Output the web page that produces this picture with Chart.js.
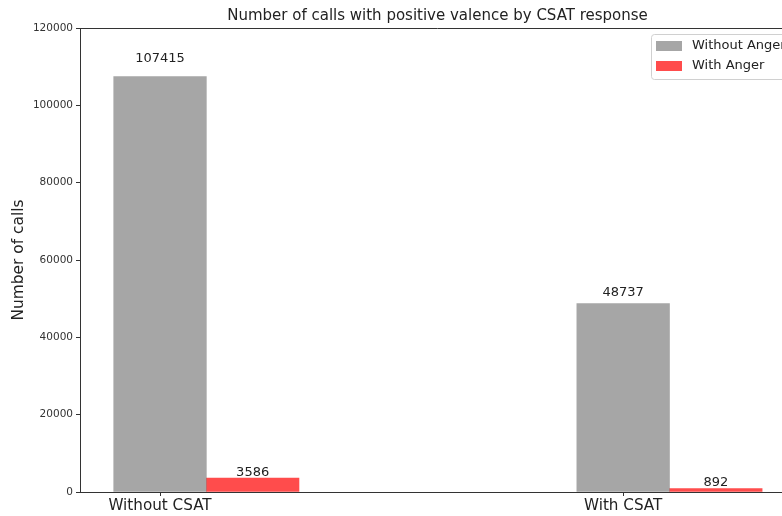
<!DOCTYPE html>
<html>
<head>
<meta charset="utf-8">
<script src="https://cdn.jsdelivr.net/npm/chart.js@4.4.1/dist/chart.umd.min.js"></script>
<style>
  html, body { margin: 0; padding: 0; background: #fff; overflow: hidden; }
  #wrap { width: 800px; height: 516px; }
</style>
</head>
<body>
<div id="wrap"><canvas id="chart"></canvas></div>
<script>
// chart data
const categories = ["Without CSAT", "With CSAT"];
const seriesNames = ["Without Anger", "With Anger"];
const withoutAnger = [107415, 48737];
const withAnger = [3586, 892];
const yTicks = [0, 20000, 40000, 60000, 80000, 100000, 120000];
// second series sits one bar width to the right of the tick (x + 0.2)
const barShift = 0.2;

const GRAY = "rgba(128, 128, 128, 0.7)";
const RED = "rgba(255, 0, 0, 0.7)";
const FONT = "'DejaVu Sans', sans-serif";

// title, y label, top/right border, legend and value labels
const extrasPlugin = {
  id: "extras",
  afterDraw(chart) {
    const ctx = chart.ctx;
    const area = chart.chartArea;
    const yScale = chart.scales.y;
    ctx.save();

    // frame top + right
    ctx.strokeStyle = "#333";
    ctx.lineWidth = 1;
    ctx.beginPath();
    ctx.moveTo(area.left, area.top + 0.5);
    ctx.lineTo(area.right, area.top + 0.5);
    ctx.lineTo(area.right, area.bottom);
    ctx.stroke();

    // title
    ctx.fillStyle = "#222";
    ctx.font = "15px " + FONT;
    ctx.textAlign = "center";
    ctx.textBaseline = "middle";
    ctx.fillText("Number of calls with positive valence by CSAT response",
      (area.left + area.right) / 2, 16);

    // y axis title
    ctx.save();
    ctx.translate(19, (area.top + area.bottom) / 2);
    ctx.rotate(-Math.PI / 2);
    ctx.font = "15.4px " + FONT;
    ctx.fillText("Number of calls", 0, 0);
    ctx.restore();

    // value labels
    ctx.font = "13px " + FONT;
    ctx.textBaseline = "alphabetic";
    chart.data.datasets.forEach((ds, di) => {
      const meta = chart.getDatasetMeta(di);
      meta.data.forEach((bar, i) => {
        const v = ds.data[i].y;
        ctx.fillText(String(v), bar.x, yScale.getPixelForValue(v * 1.03) - 2);
      });
    });

    // legend (inside, upper right)
    const lx = area.right - 144, ly = area.top + 6;
    ctx.fillStyle = "rgba(255,255,255,0.8)";
    ctx.strokeStyle = "#d0d0d0";
    ctx.beginPath();
    ctx.roundRect(lx + 0.5, ly + 0.5, 137, 45, 3);
    ctx.fill();
    ctx.stroke();
    ctx.font = "13px " + FONT;
    ctx.textAlign = "left";
    ctx.textBaseline = "middle";
    chart.data.datasets.forEach((ds, di) => {
      const rowY = ly + 12 + di * 20;
      ctx.fillStyle = ds.backgroundColor;
      ctx.fillRect(lx + 5, rowY - 5, 26, 10);
      ctx.fillStyle = "#222";
      ctx.fillText(ds.label, lx + 41, rowY);
    });

    ctx.restore();
  }
};

new Chart(document.getElementById("chart"), {
  type: "bar",
  data: {
    datasets: [
      {
        label: seriesNames[0],
        data: withoutAnger.map((v, i) => ({ x: i, y: v })),
        backgroundColor: GRAY,
      },
      {
        label: seriesNames[1],
        data: withAnger.map((v, i) => ({ x: i + barShift, y: v })),
        backgroundColor: RED,
      },
    ],
  },
  options: {
    responsive: true,
    maintainAspectRatio: false,
    animation: false,
    layout: { padding: { top: 28, right: 5, left: 0, bottom: 0 } },
    grouped: false,
    // bar width = spacing between neighbouring x values (0.2)
    categoryPercentage: 1.0,
    barPercentage: 1.0,
    plugins: {
      legend: { display: false },
      title: { display: false },
      tooltip: { enabled: false },
    },
    scales: {
      x: {
        type: "linear",
        offset: false,
        min: -0.1728,
        max: 1.371,
        afterBuildTicks: (scale) => {
          scale.ticks = categories.map((c, i) => ({ value: i }));
        },
        afterFit: (scale) => { scale.height = 24; },
        ticks: {
          callback: (v) => categories[v] || "",
          font: { family: FONT, size: 15.2 },
          color: "#222",
          padding: 1,
          maxRotation: 0,
          autoSkip: false,
        },
        grid: { offset: false, drawOnChartArea: false, drawTicks: true, tickLength: 4, color: "#333" },
        border: { display: true, color: "#333" },
      },
      y: {
        min: 0,
        max: 120000,
        afterBuildTicks: (scale) => {
          scale.ticks = yTicks.map((v) => ({ value: v }));
        },
        afterFit: (scale) => { scale.width = 80; },
        ticks: {
          callback: (v) => String(v),
          font: { family: FONT, size: 10.5 },
          color: "#333",
          padding: 3,
        },
        grid: { drawOnChartArea: false, drawTicks: true, tickLength: 4, color: "#333" },
        border: { display: true, color: "#333" },
      },
    },
  },
  plugins: [extrasPlugin],
});
</script>
</body>
</html>
